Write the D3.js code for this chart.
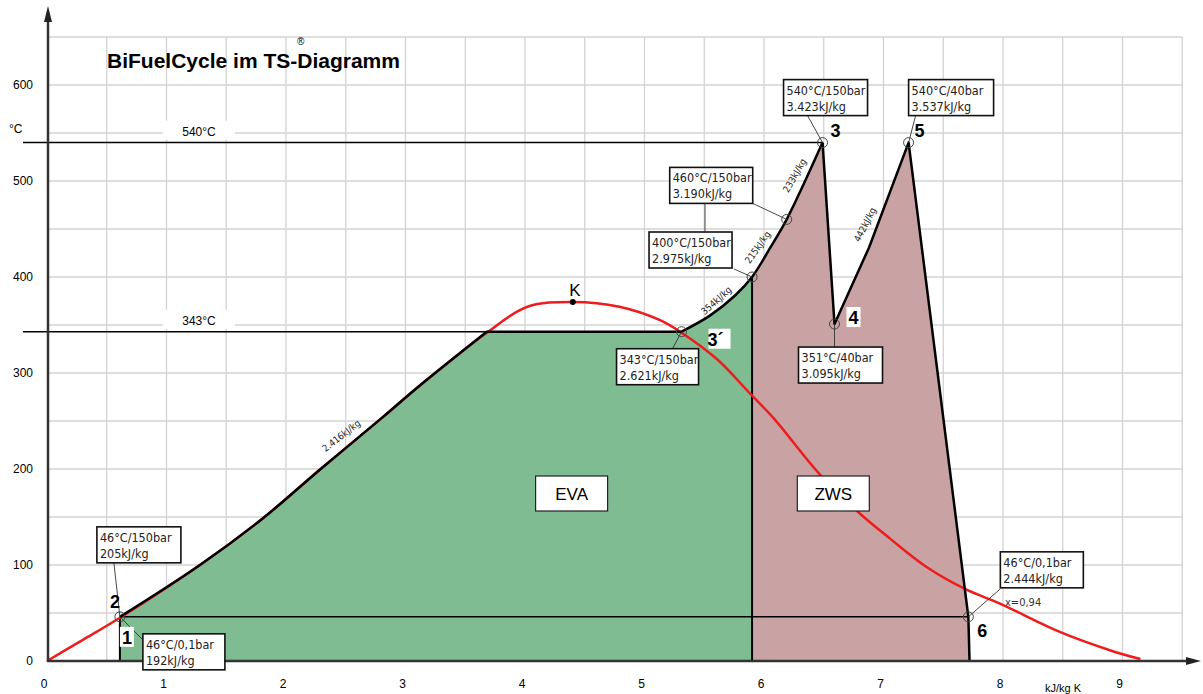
<!DOCTYPE html>
<html><head><meta charset="utf-8">
<script src="https://cdn.jsdelivr.net/npm/d3@7"></script>
<style>
body{margin:0;background:#fff;}
svg{display:block;}
</style></head>
<body>
<svg id="c" width="1203" height="694"></svg>
<script>
// ---- data ----
const xTicks = [0,1,2,3,4,5,6,7,8,9];
const yTicks = [0,100,200,300,400,500,600];
// saturation curve (red)
const satS = [0,0.30,0.61,1.28,1.81,2.28,2.81,3.12,3.68,4.02,4.40,4.79,5.13,5.31,5.61,5.88,6.08,6.47,6.79,7.05,7.36,7.70,7.97,8.48,8.90,9.15];
const satT = [0,22,45,100,149,199,254,287,342,369,374,369,355,342,314,279,253,194,155,128,98,74,60,30,11,2];
// high pressure heating line 2 -> 3' -> 3
const hpS = [0.61,1.28,1.81,2.28,2.81,3.12,3.68,5.31,5.55,5.76,5.90,6.05,6.19,6.49];
const hpT = [46,100,149,199,254,287,343,343,360,381,400,430,460,540];
// expansion / reheat 3 -> 4 -> 5 -> 6
const rhS = [6.49,6.59,6.88,7.21,7.71,7.72];
const rhT = [540,351,431,540,46,0];
// state points
const stS = [0.61,0.61,5.31,5.90,6.19,6.49,6.59,7.21,7.71];
const stT = [46,46,343,400,460,540,351,540,46];
const stLine1 = ["46°C/150bar","46°C/0,1bar","343°C/150bar","400°C/150bar","460°C/150bar","540°C/150bar","351°C/40bar","540°C/40bar","46°C/0,1bar"];
const stLine2 = ["205kJ/kg","192kJ/kg","2.621kJ/kg","2.975kJ/kg","3.190kJ/kg","3.423kJ/kg","3.095kJ/kg","3.537kJ/kg","2.444kJ/kg"];
const stName = ["2","1","3´","","","3","4","5","6"];
const critS = 4.40, critT = 374;
const heatLabels = ["2.416kJ/kg","354kJ/kg","215kJ/kg","233kJ/kg","442kJ/kg"];
const heatS = [2.48,5.62,5.97,6.28,6.87];
const heatT = [232,373,429,504,453];
const refLinesT = [540,343];
const condT = 46, splitS = 5.90, pt1S = 0.61, pt6S = 7.71;

// ---- scales ----
const x = d3.scaleLinear().domain([0,9.5]).range([47,47+9.5*119.5]);
const y = d3.scaleLinear().domain([0,650]).range([661,661-650*0.96]);
const svg = d3.select("#c");
const F = "Arial, 'Liberation Sans', sans-serif";
const N = "'DejaVu Sans Condensed','Liberation Sans Narrow',sans-serif";

// grid
const g = svg.append("g");
d3.range(0.5,9.51,0.5).forEach(v=>g.append("line").attr("x1",x(v)).attr("x2",x(v)).attr("y1",y(650)).attr("y2",y(0)).attr("stroke","#d3d3d3").attr("stroke-width",1.3));
d3.range(50,651,50).forEach(v=>g.append("line").attr("x1",x(0)).attr("x2",x(9.5)).attr("y1",y(v)).attr("y2",y(v)).attr("stroke","#d3d3d3").attr("stroke-width",1.3));

// line generators
const hp = hpS.map((s,i)=>[s,hpT[i]]);
const rh = rhS.map((s,i)=>[s,rhT[i]]);
const iFlat0 = 6, iFlat1 = 7, iSplit = hpS.indexOf(splitS);
const lin = d3.line().x(d=>x(d[0])).y(d=>y(d[1]));
const cr = d3.line().x(d=>x(d[0])).y(d=>y(d[1])).curve(d3.curveCatmullRom);
const cont = p => p.replace(/^M/,"L");
// heating path pieces: curved liquid part, flat part, curved superheat part
function hpPath(endIdx){
  let p = cr(hp.slice(0,iFlat0+1));
  p += cont(lin(hp.slice(iFlat0,iFlat1+1)));
  p += cont(cr(hp.slice(iFlat1,endIdx+1)));
  return p;
}
const greenD = lin([[pt1S,0],[pt1S,condT]]) + cont(hpPath(iSplit)) + cont(lin([[splitS,hpT[iSplit]],[splitS,0]])) + "Z";
const pinkD = lin([[splitS,0],[splitS,hpT[iSplit]]]) + cont(cr(hp.slice(iSplit))) + cont(lin(rh)) + "Z";
svg.append("path").attr("d",greenD).attr("fill","#7fbc92");
svg.append("path").attr("d",pinkD).attr("fill","#c9a3a4");

// reference lines
refLinesT.forEach(t=>{
  const xe = t===540 ? x(hpS[hpS.length-1]) : x(5.31);
  svg.append("line").attr("x1",23).attr("x2",xe).attr("y1",y(t)).attr("y2",y(t)).attr("stroke","#000").attr("stroke-width",1.5);
  svg.append("rect").attr("x",163).attr("y",y(t)-22).attr("width",72).attr("height",19).attr("fill","#fff");
  svg.append("text").attr("x",199).attr("y",y(t)-7).attr("text-anchor","middle").attr("font-family",F).attr("font-size",12).text(t+"°C");
});
// condensation line
svg.append("line").attr("x1",x(pt1S)).attr("x2",x(pt6S)).attr("y1",y(condT)).attr("y2",y(condT)).attr("stroke","#000").attr("stroke-width",1.5);
// split vertical & point-1 vertical
svg.append("line").attr("x1",x(splitS)).attr("x2",x(splitS)).attr("y1",y(0)).attr("y2",y(400)).attr("stroke","#000").attr("stroke-width",2);
svg.append("line").attr("x1",x(pt1S)).attr("x2",x(pt1S)).attr("y1",y(0)).attr("y2",y(condT)).attr("stroke","#000").attr("stroke-width",2);

// saturation curve
svg.append("path").attr("d",cr(satS.map((s,i)=>[s,satT[i]]))).attr("fill","none").attr("stroke","#ee1c1c").attr("stroke-width",2.5);

// cycle lines
svg.append("path").attr("d",hpPath(hp.length-1)).attr("fill","none").attr("stroke","#000").attr("stroke-width",2.5).attr("stroke-linejoin","round");
svg.append("path").attr("d",lin(rh)).attr("fill","none").attr("stroke","#000").attr("stroke-width",2.5).attr("stroke-linejoin","round");

// axes
svg.append("line").attr("x1",48).attr("x2",48).attr("y1",662).attr("y2",14).attr("stroke","#333").attr("stroke-width",2.5);
svg.append("path").attr("d","M48,6 L44,22 L52,22 Z").attr("fill","#222");
svg.append("line").attr("x1",47).attr("x2",1192).attr("y1",661).attr("y2",661).attr("stroke","#333").attr("stroke-width",2.5);
svg.append("path").attr("d","M1201,661 L1186,657 L1186,665 Z").attr("fill","#222");
yTicks.forEach(v=>svg.append("text").attr("x",33).attr("y",y(v)+4).attr("text-anchor","end").attr("font-family",F).attr("font-size",12).text(v));
xTicks.forEach(v=>svg.append("text").attr("x",x(v)-3).attr("y",688).attr("text-anchor","middle").attr("font-family",F).attr("font-size",12).text(v));
svg.append("text").attr("x",9).attr("y",133).attr("font-family",F).attr("font-size",12).text("°C");
svg.append("text").attr("x",1045).attr("y",692).attr("font-family",F).attr("font-size",11).text("kJ/kg K");

// title
svg.append("text").attr("x",107).attr("y",68).attr("font-family",F).attr("font-weight","bold").attr("font-size",21).text("BiFuelCycle im TS-Diagramm");
svg.append("text").attr("x",297).attr("y",45).attr("font-family",F).attr("font-size",10).text("®");

// heat labels
const heatAng = [-38,-42,-55,-60,-63];
heatLabels.forEach((t,i)=>{
  svg.append("text").attr("transform",`translate(${x(heatS[i])},${y(heatT[i])}) rotate(${heatAng[i]})`).attr("text-anchor","middle").attr("font-family",N).attr("font-size",9.5).attr("fill","#222").text(t);
});

// state point annotations
const boxOff = [[-23,-90],[23,17],[-65,17],[-103,-45],[-117,-52],[-39,-63],[-36,23],[0,-63],[32,-65]];
const leadAt = [[17,36],[0,6],[56,0],[85,37],[83,36],[24,36],[36,0],[7,36],[0,37]];
const boxW = [84,82,82,83,83,84,84,85,83];
stS.forEach((s,i)=>{
  const px = x(s), py = y(stT[i]);
  const bx = px+boxOff[i][0], by = py+boxOff[i][1];
  svg.append("line").attr("x1",px).attr("y1",py).attr("x2",bx+leadAt[i][0]).attr("y2",by+leadAt[i][1]).attr("stroke","#333").attr("stroke-width",0.9);
  svg.append("rect").attr("x",bx).attr("y",by).attr("width",boxW[i]).attr("height",36).attr("fill","#fff").attr("stroke","#111").attr("stroke-width",1.6);
  svg.append("text").attr("x",bx+3).attr("y",by+15).attr("font-family",N).attr("font-size",12.5).attr("fill","#222").text(stLine1[i]);
  svg.append("text").attr("x",bx+3).attr("y",by+31).attr("font-family",N).attr("font-size",12.5).attr("fill","#222").text(stLine2[i]);
});
// connector between 460 and 400 boxes
svg.append("line").attr("x1",705).attr("x2",705).attr("y1",y(460)-52+36).attr("y2",y(400)-45).attr("stroke","#333").attr("stroke-width",0.9);
// circles
stS.forEach((s,i)=>{ if(i===1) return;
  svg.append("circle").attr("cx",x(s)).attr("cy",y(stT[i])).attr("r",5).attr("fill","none").attr("stroke","#444").attr("stroke-width",1);
});
// names
const nameOff = [[-5,-9],[7,27],[34,14],[0,0],[0,0],[13,-6],[19,0],[11,-6],[14,20]];
stS.forEach((s,i)=>{ if(!stName[i]) return;
  const px = x(s)+nameOff[i][0], py = y(stT[i])+nameOff[i][1];
  if(i===1||i===2||i===6){
    svg.append("rect").attr("x",px-7).attr("y",py-17).attr("width",i===2?22:14).attr("height",20).attr("fill","#fff");
  }
  svg.append("text").attr("x",px).attr("y",py).attr("text-anchor","middle").attr("font-family",F).attr("font-weight","bold").attr("font-size",18).text(stName[i]);
});
// critical point
svg.append("circle").attr("cx",x(critS)).attr("cy",y(critT)).attr("r",3).attr("fill","#000");
svg.append("text").attr("x",x(critS)+2).attr("y",y(critT)-6).attr("text-anchor","middle").attr("font-family",F).attr("font-size",17).text("K");
// x=0,94
svg.append("text").attr("x",1005).attr("y",606).attr("font-family",N).attr("font-size",11).attr("fill","#333").text("x=0,94");

// region boxes
[["EVA",4.39],["ZWS",6.58]].forEach(([t,s])=>{
  svg.append("rect").attr("x",x(s)-36).attr("y",476).attr("width",72).attr("height",35).attr("fill","#fff").attr("stroke","#222").attr("stroke-width",1.2);
  svg.append("text").attr("x",x(s)).attr("y",500).attr("text-anchor","middle").attr("font-family",F).attr("font-size",17).text(t);
});
</script>
</body></html>
